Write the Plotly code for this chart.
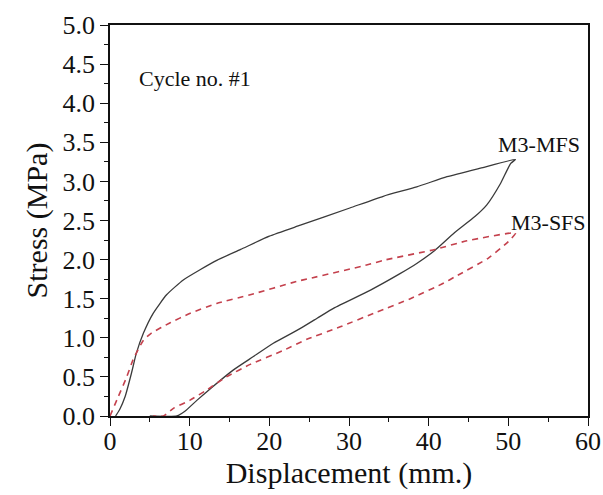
import plotly.graph_objects as go

# M3-MFS (solid black): loading then unloading branch
mfs_x = [0.7, 1.2, 1.9, 2.7, 3.3, 4.2, 5.4, 7.1, 9.2, 11.3, 13.4, 16.4, 20.0, 23.9, 30.1, 34.3, 38.5, 42.3, 46.5, 50.9,
         50.3, 49.0, 47.3, 45.8, 43.2, 40.8, 38.5, 36.4, 32.7, 28.1, 26.0, 23.9, 20.5, 18.0, 15.5, 12.6, 10.9, 9.4, 8.4, 5.0]
mfs_y = [0.0, 0.08, 0.25, 0.55, 0.80, 1.06, 1.31, 1.55, 1.74, 1.87, 1.99, 2.13, 2.30, 2.44, 2.66, 2.81, 2.93, 3.06, 3.17, 3.28,
         3.23, 2.97, 2.70, 2.55, 2.34, 2.12, 1.95, 1.82, 1.61, 1.38, 1.25, 1.12, 0.93, 0.76, 0.59, 0.35, 0.20, 0.06, 0.0, 0.0]

# M3-SFS (dashed red): loading then unloading branch
sfs_x = [0.0, 1.05, 2.1, 2.9, 4.2, 5.2, 7.5, 10.0, 13.4, 17.6, 23.4, 25.1, 32.2, 34.3, 40.8, 44.8, 50.9,
         50.0, 47.5, 43.3, 41.9, 37.7, 33.5, 28.9, 24.7, 21.8, 17.6, 14.6, 12.1, 10.0, 8.0, 6.7, 5.4]
sfs_y = [0.0, 0.25, 0.50, 0.72, 0.97, 1.06, 1.19, 1.31, 1.44, 1.55, 1.72, 1.76, 1.93, 1.99, 2.13, 2.24, 2.34,
         2.23, 2.02, 1.78, 1.70, 1.50, 1.33, 1.14, 0.98, 0.84, 0.66, 0.50, 0.33, 0.20, 0.10, 0.0, 0.0]

FONT = "Liberation Serif, Times New Roman, serif"

fig = go.Figure()
fig.add_trace(go.Scatter(x=mfs_x, y=mfs_y, mode="lines", name="M3-MFS",
                         line=dict(color="#3a3a3a", width=1.3, shape="spline", smoothing=0.5)))
fig.add_trace(go.Scatter(x=sfs_x, y=sfs_y, mode="lines", name="M3-SFS",
                         line=dict(color="#c4414d", width=1.6, dash="6px,5px", shape="spline", smoothing=0.5)))

fig.add_annotation(x=3.4, y=4.31, text="Cycle no. #1", showarrow=False, xanchor="left",
                   font=dict(family=FONT, size=22, color="#111"))
fig.add_annotation(x=53.8, y=3.47, text="M3-MFS", showarrow=False,
                   font=dict(family=FONT, size=22, color="#111"))
fig.add_annotation(x=55.0, y=2.47, text="M3-SFS", showarrow=False,
                   font=dict(family=FONT, size=22, color="#111"))

axis_common = dict(showgrid=False, zeroline=False, showline=True, linecolor="#111", linewidth=1.5,
                   mirror=True, ticks="outside", ticklen=8, tickwidth=1.3, tickcolor="#111",
                   automargin=False,
                   tickfont=dict(family=FONT, size=26, color="#111"))

fig.update_xaxes(range=[0, 60], dtick=10, tick0=0, ticklabelstandoff=-7,
                 minor=dict(dtick=5, ticks="outside", ticklen=4, tickwidth=1.2, tickcolor="#111"),
                 title=dict(text="Displacement (mm.)", font=dict(family=FONT, size=30, color="#111"), standoff=0),
                 **axis_common)
fig.update_yaxes(range=[0, 5], dtick=0.5, tick0=0, tickformat=".1f",
                 minor=dict(dtick=0.25, ticks="outside", ticklen=4, tickwidth=1.2, tickcolor="#111"),
                 title=dict(text="Stress (MPa)", font=dict(family=FONT, size=30, color="#111"), standoff=6),
                 **axis_common)

fig.update_layout(width=603, height=495, margin=dict(l=110, r=15, t=25, b=79),
                  plot_bgcolor="white", paper_bgcolor="white", showlegend=False)

fig.write_html("out.html")
